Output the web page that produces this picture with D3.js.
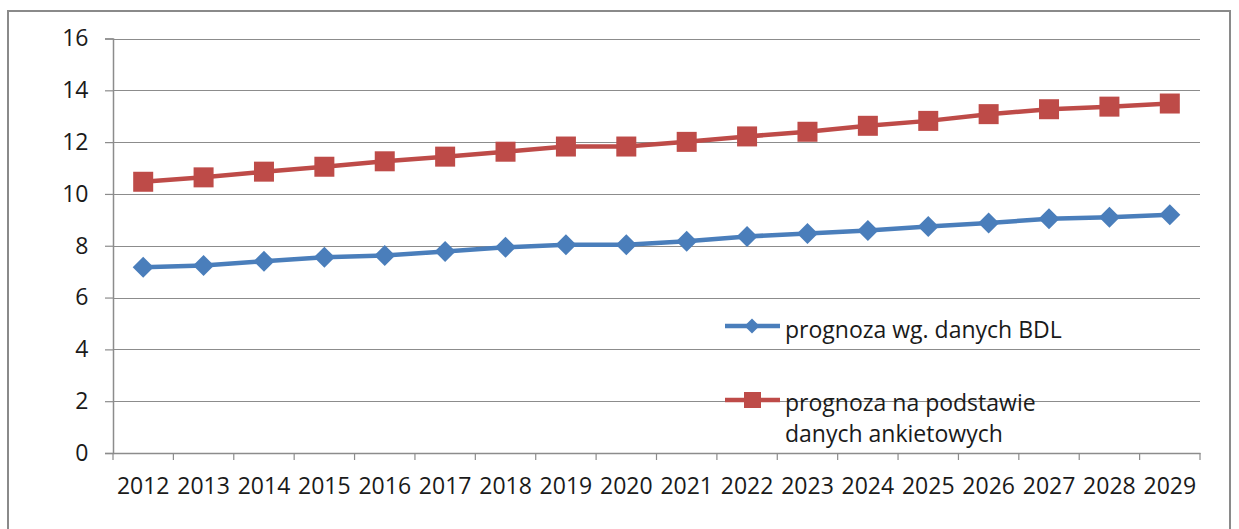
<!DOCTYPE html>
<html>
<head>
<meta charset="utf-8">
<script src="https://cdn.jsdelivr.net/npm/d3@7/dist/d3.min.js"></script>
<style>
  html, body { margin: 0; padding: 0; background: #fff; }
  svg { display: block; }
  text { font-family: "Open Sans", "Noto Sans", sans-serif; fill: #1a1a1a; }
</style>
</head>
<body>
<svg id="chart" width="1239" height="529"></svg>
<script>
const years = ["2012","2013","2014","2015","2016","2017","2018","2019","2020","2021","2022","2023","2024","2025","2026","2027","2028","2029"];
const bdl = [7.17,7.24,7.40,7.56,7.62,7.78,7.94,8.04,8.04,8.17,8.36,8.47,8.59,8.74,8.88,9.04,9.10,9.20];
const ankiety = [10.47,10.64,10.86,11.05,11.26,11.44,11.63,11.83,11.83,12.01,12.22,12.40,12.63,12.82,13.08,13.27,13.37,13.49];
const yTicks = [0,2,4,6,8,10,12,14,16];
const seriesNames = ["prognoza wg. danych BDL", ["prognoza na podstawie", "danych ankietowych"]];

const blue = "#4A7EBB", red = "#BE4B48", grid = "#8C8C8C";
const fs = 23;
const svg = d3.select("#chart");

// outer frame
svg.append("rect").attr("x", 8).attr("y", 11).attr("width", 1222).attr("height", 540)
  .attr("fill", "none").attr("stroke", "#8A8A8A").attr("stroke-width", 2);

const pL = 113, pR = 1200, pT = 38.5, pB = 453;
const x = d3.scaleBand().domain(years).range([pL, pR]);
const y = d3.scaleLinear().domain([0, 16]).range([pB, pT]);

// gridlines
svg.append("g").selectAll("line").data(yTicks.filter(d => d > 0)).join("line")
  .attr("x1", pL).attr("x2", pR)
  .attr("y1", d => Math.round(y(d)) + 0.5).attr("y2", d => Math.round(y(d)) + 0.5)
  .attr("stroke", grid).attr("stroke-width", 1.2);

// y axis
const yAxis = d3.axisLeft(y).tickValues(yTicks).tickSize(8).tickPadding(16.5).tickFormat(d3.format("d"));
const gy = svg.append("g").attr("transform", `translate(${pL},0)`).call(yAxis);
gy.select(".domain").attr("stroke", grid).attr("stroke-width", 1.5);
gy.selectAll(".tick line").attr("stroke", grid).attr("stroke-width", 1.2);
gy.selectAll(".tick text").attr("font-size", fs).attr("font-family", "Open Sans").attr("fill", "#1a1a1a");

// x axis
const xAxis = d3.axisBottom(x).tickSize(0).tickPadding(10);
const gx = svg.append("g").attr("transform", `translate(0,${pB})`).call(xAxis);
gx.select(".domain").attr("stroke", grid).attr("stroke-width", 1.5);
gx.selectAll(".tick text").attr("font-size", fs).attr("font-family", "Open Sans").attr("fill", "#1a1a1a")
  .attr("y", 41).attr("dy", 0);
// tick marks at band boundaries
const bounds = years.map(d => x(d)).concat([pR]);
svg.append("g").selectAll("line").data(bounds).join("line")
  .attr("x1", d => d).attr("x2", d => d).attr("y1", pB).attr("y2", pB + 7)
  .attr("stroke", grid).attr("stroke-width", 1.2);

const cx = d => x(d) + x.bandwidth() / 2;
const line = d3.line().x((d, i) => cx(years[i])).y(d => y(d));

function diamond(r) { return `M0,${-r}L${r},0L0,${r}L${-r},0Z`; }

// red series
svg.append("path").datum(ankiety).attr("d", line).attr("fill", "none")
  .attr("stroke", red).attr("stroke-width", 4.5).attr("stroke-linejoin", "round");
svg.append("g").selectAll("rect").data(ankiety).join("rect")
  .attr("x", (d, i) => cx(years[i]) - 10).attr("y", d => y(d) - 10)
  .attr("width", 20).attr("height", 20).attr("fill", red);

// blue series
svg.append("path").datum(bdl).attr("d", line).attr("fill", "none")
  .attr("stroke", blue).attr("stroke-width", 4.5).attr("stroke-linejoin", "round");
svg.append("g").selectAll("path").data(bdl).join("path")
  .attr("transform", (d, i) => `translate(${cx(years[i])},${y(d)})`)
  .attr("d", diamond(10.5)).attr("fill", blue);

// legend
const lg = svg.append("g");
lg.append("line").attr("x1", 725).attr("x2", 780).attr("y1", 326).attr("y2", 326)
  .attr("stroke", blue).attr("stroke-width", 4.5);
lg.append("path").attr("transform", "translate(752,326)").attr("d", diamond(7.5)).attr("fill", blue);
lg.append("text").attr("x", 785).attr("y", 337.5).attr("font-size", fs)
  .text(seriesNames[0]);

lg.append("line").attr("x1", 725).attr("x2", 780).attr("y1", 400).attr("y2", 400)
  .attr("stroke", red).attr("stroke-width", 4.5);
lg.append("rect").attr("x", 744).attr("y", 392).attr("width", 17).attr("height", 16).attr("fill", red);
lg.append("text").attr("x", 785).attr("y", 411).attr("font-size", fs)
  .text(seriesNames[1][0]);
lg.append("text").attr("x", 785).attr("y", 442).attr("font-size", fs)
  .text(seriesNames[1][1]);
</script>
</body>
</html>
